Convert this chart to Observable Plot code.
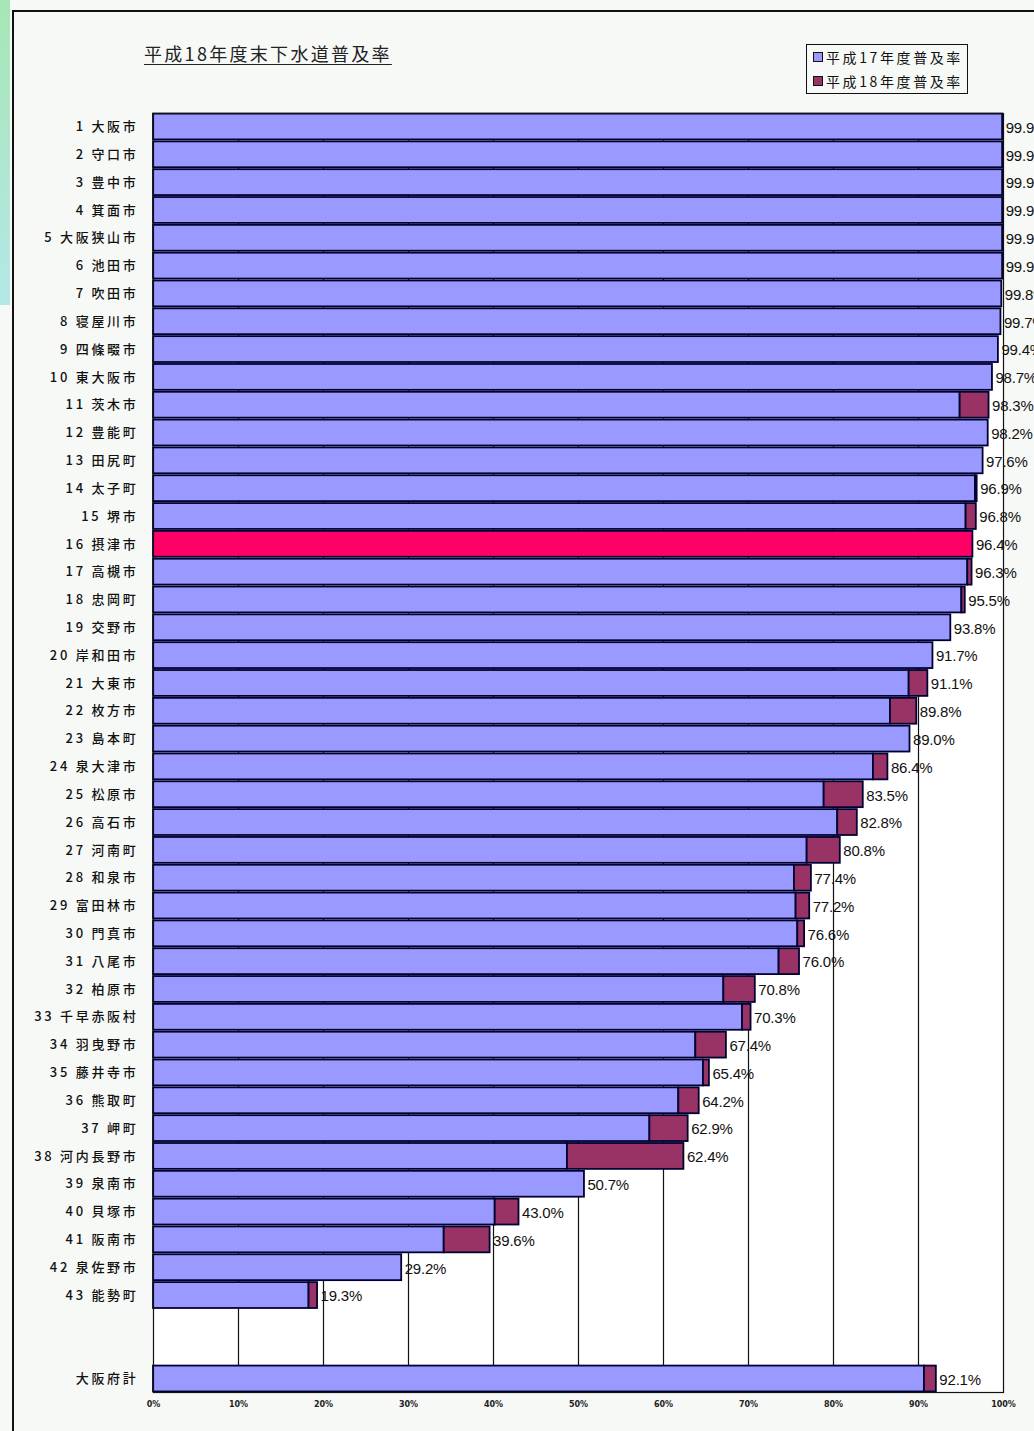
<!DOCTYPE html>
<html>
<head>
<meta charset="utf-8">
<script src="https://cdn.jsdelivr.net/npm/d3@7"></script>
<script src="https://cdn.jsdelivr.net/npm/@observablehq/plot@0.6"></script>
<style>
  html, body { margin: 0; padding: 0; background: #ffffff; }
  #wrap { position: relative; width: 1034px; height: 1431px; overflow: hidden; background: #f7f9f7; }
  #strip { position: absolute; left: 0; top: 0; width: 10px; height: 305px; background: linear-gradient(#a6e6b4, #b4e8e8); }
  #outer { position: absolute; left: 12px; top: 10px; width: 1040px; height: 1440px; border-left: 2px solid #111; border-top: 2px solid #111; box-sizing: border-box; }
  #title { position: absolute; left: 144px; top: 43px; font-family: "Noto Sans CJK JP", sans-serif; font-size: 18px; line-height: 20px; letter-spacing: 2.3px; text-decoration: underline; text-underline-offset: 3px; color: #222; white-space: nowrap; }
  #legend { position: absolute; left: 806px; top: 44px; width: 162px; height: 50px; border: 1.5px solid #111; box-sizing: border-box; background: #f7f9f7; font-family: "Noto Sans CJK JP", sans-serif; font-size: 14px; color: #111; }
  .lg { position: absolute; left: 6px; white-space: nowrap; letter-spacing: 2.6px; line-height: 16px; }
  .sw { display: inline-block; width: 8px; height: 8px; border: 1px solid #111; margin-right: 3px; vertical-align: 1px; }
  #chart { position: absolute; left: 0; top: 0; }
  #chart g[aria-label="y-axis tick label"] text { letter-spacing: 2.7px; }
  #chart g.vals text { letter-spacing: -0.2px; }
</style>
</head>
<body>
<div id="wrap">
  <div id="strip"></div>
  <div id="outer"></div>
  <div id="title">平成18年度末下水道普及率</div>
  <div id="legend"></div>
  <div id="chart"></div>
</div>
<script>
// Municipalities (ranked), blank separator rows, and prefecture total
const names = ["1 大阪市","2 守口市","3 豊中市","4 箕面市","5 大阪狭山市","6 池田市","7 吹田市","8 寝屋川市","9 四條畷市","10 東大阪市",
  "11 茨木市","12 豊能町","13 田尻町","14 太子町","15 堺市","16 摂津市","17 高槻市","18 忠岡町","19 交野市","20 岸和田市",
  "21 大東市","22 枚方市","23 島本町","24 泉大津市","25 松原市","26 高石市","27 河南町","28 和泉市","29 富田林市","30 門真市",
  "31 八尾市","32 柏原市","33 千早赤阪村","34 羽曳野市","35 藤井寺市","36 熊取町","37 岬町","38 河内長野市","39 泉南市","40 貝塚市",
  "41 阪南市","42 泉佐野市","43 能勢町","大阪府計"];
const blankRows = [" ", "  "];
// 平成18年度普及率 (%)
const h18 = [99.9,99.9,99.9,99.9,99.9,99.9,99.8,99.7,99.4,98.7,
  98.3,98.2,97.6,96.9,96.8,96.4,96.3,95.5,93.8,91.7,
  91.1,89.8,89.0,86.4,83.5,82.8,80.8,77.4,77.2,76.6,
  76.0,70.8,70.3,67.4,65.4,64.2,62.9,62.4,50.7,43.0,
  39.6,29.2,19.3,92.1];
// 平成17年度普及率 (%) — estimated from bar split
const h17 = [99.9,99.9,99.9,99.9,99.9,99.9,99.8,99.7,99.4,98.7,
  94.9,98.2,97.6,96.7,95.6,96.4,95.8,95.1,93.8,91.7,
  88.9,86.7,89.0,84.7,78.9,80.5,76.9,75.4,75.6,75.8,
  73.6,67.1,69.3,63.8,64.7,61.8,58.4,48.7,50.7,40.2,
  34.2,29.2,18.3,90.7];
const highlight = "16 摂津市";
const xTicks = [0,10,20,30,40,50,60,70,80,90,100];
const seriesNames = ["平成17年度普及率", "平成18年度普及率"];
const colors = { h17: "#9999ff", h18: "#993366", highlight: "#ff0066", stroke: "#000033" };

const data = names.map((name, i) => ({ name, h17: h17[i], h18: h18[i] }));
const yDomain = [...names.slice(0, 43), ...blankRows, names[43]];

// legend
const legend = document.getElementById("legend");
[[colors.h17, seriesNames[0]], [colors.h18, seriesNames[1]]].forEach(([c, t], i) => {
  const row = document.createElement("div");
  row.className = "lg";
  row.style.top = (i === 0 ? 4 : 28) + "px";
  row.innerHTML = `<span class="sw" style="background:${c}"></span>${t}`;
  legend.appendChild(row);
});

const chart = Plot.plot({
  width: 1034,
  height: 1431,
  marginLeft: 153,
  marginRight: 31,
  marginTop: 113,
  marginBottom: 39,
  style: { background: "transparent", fontFamily: "'Noto Sans CJK JP', sans-serif", overflow: "hidden" },
  x: { domain: [0, 100] },
  y: { domain: yDomain, paddingInner: 0.07, paddingOuter: 0.02 },
  marks: [
    Plot.frame({ fill: "white" }),
    Plot.ruleX(xTicks.slice(1, -1), { stroke: "#111", strokeWidth: 1.2 }),
    Plot.barX(data, {
      x1: 0, x2: "h17", y: "name",
      fill: d => d.name === highlight ? colors.highlight : colors.h17,
      stroke: colors.stroke, strokeWidth: 1.8
    }),
    Plot.barX(data.filter(d => d.h18 > d.h17), {
      x1: "h17", x2: "h18", y: "name",
      fill: colors.h18, stroke: colors.stroke, strokeWidth: 1.8
    }),
    Plot.text(data, {
      x: "h18", y: "name", text: d => d.h18.toFixed(1) + "%",
      textAnchor: "start", dx: 3, dy: 1, className: "vals",
      fontFamily: "'Liberation Sans', Arial, sans-serif", fontSize: 15, fill: "#111"
    }),
    Plot.frame({ stroke: "#111", strokeWidth: 1.2 }),
    Plot.axisY({ tickSize: 0, tickPadding: 15, fontSize: 13, fontWeight: 500, fill: "#111", label: null,
      tickFormat: d => d.trim() === "" ? "" : d }),
    Plot.axisX({ ticks: xTicks, tickFormat: d => d + "%", tickSize: 0, tickPadding: 9,
      fontSize: 8, fontWeight: "bold", fill: "#222", label: null, fontFamily: "'DejaVu Sans', sans-serif" })
  ]
});
document.getElementById("chart").appendChild(chart);
</script>
</body>
</html>
